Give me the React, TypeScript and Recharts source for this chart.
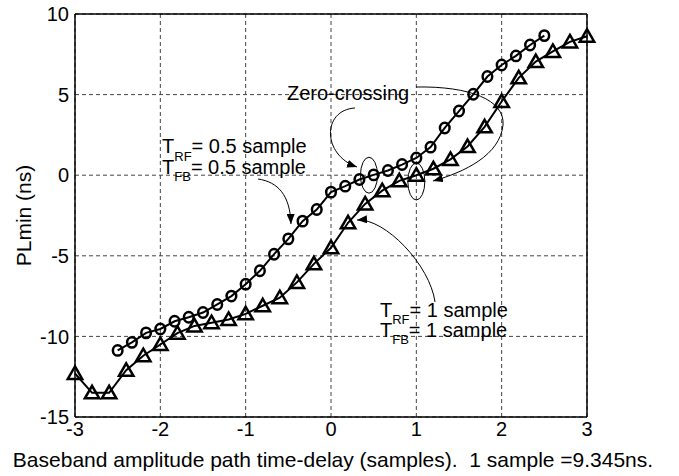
import React from 'react';
import { LineChart, Line, XAxis, YAxis, CartesianGrid } from 'recharts';

// ---------- data ----------
const xTicks = [-3, -2, -1, 0, 1, 2, 3];
const yTicks = [-15, -10, -5, 0, 5, 10];

// T_RF = T_FB = 0.5 sample (circles)
const halfSampleX = [
  -2.5, -2.333, -2.167, -2.0, -1.833, -1.667, -1.5, -1.333, -1.167, -1.0, -0.833,
  -0.667, -0.5, -0.333, -0.167, 0.0, 0.167, 0.333, 0.5, 0.667, 0.833, 1.0, 1.167,
  1.333, 1.5, 1.667, 1.833, 2.0, 2.167, 2.333, 2.5,
];
const halfSampleY = [
  -10.87, -10.37, -9.78, -9.54, -9.06, -8.81, -8.52, -8.02, -7.5, -6.76, -5.93,
  -4.9, -3.95, -2.85, -2.13, -1.05, -0.68, -0.27, 0.02, 0.29, 0.66, 1.07, 1.74,
  2.93, 3.98, 5.02, 6.12, 6.84, 7.4, 8.08, 8.66,
];

// T_RF = T_FB = 1 sample (triangles)
const oneSampleX = [
  -3.0, -2.8, -2.6, -2.4, -2.2, -2.0, -1.8, -1.6, -1.4, -1.2, -1.0, -0.8, -0.6,
  -0.4, -0.2, 0.0, 0.2, 0.4, 0.6, 0.8, 1.0, 1.2, 1.4, 1.6, 1.8, 2.0, 2.2, 2.4,
  2.6, 2.8, 3.0,
];
const oneSampleY = [
  -12.3, -13.5, -13.5, -12.1, -11.2, -10.5, -9.8, -9.35, -9.15, -8.95, -8.6, -8.1,
  -7.6, -6.65, -5.5, -4.5, -2.95, -1.78, -0.96, -0.35, 0.0, 0.4, 0.98, 1.78, 3.0,
  4.57, 6.04, 7.05, 7.68, 8.27, 8.62,
];

const halfData = halfSampleX.map((x, i) => ({ x, y: halfSampleY[i] }));
const oneData = oneSampleX.map((x, i) => ({ x, y: oneSampleY[i] }));

// ---------- layout ----------
const W = 679;
const H = 476;
const Y_AXIS_W = 60;
const X_AXIS_H = 30;
const MARGIN = { top: 14, right: 92, bottom: 29, left: 15 };
const X_DOMAIN: [number, number] = [-3, 3];
const Y_DOMAIN: [number, number] = [-15, 10];
const PLOT_L = MARGIN.left + Y_AXIS_W;
const PLOT_T = MARGIN.top;
const PLOT_W = W - PLOT_L - MARGIN.right;
const PLOT_H = H - PLOT_T - MARGIN.bottom - X_AXIS_H;
const sx = (x: number) => PLOT_L + ((x - X_DOMAIN[0]) / (X_DOMAIN[1] - X_DOMAIN[0])) * PLOT_W;
const sy = (y: number) => PLOT_T + ((Y_DOMAIN[1] - y) / (Y_DOMAIN[1] - Y_DOMAIN[0])) * PLOT_H;

const FONT = '"Liberation Sans", Arial, Helvetica, sans-serif';

// ---------- markers ----------
const CircleDot = (props: any) => {
  const { cx, cy, index } = props;
  if (cx == null || cy == null) return <g key={`c-${index}`} />;
  return (
    <ellipse key={`c-${index}`} cx={cx} cy={cy} rx={4.8} ry={5.2} fill="none" stroke="#000" strokeWidth={2.5} />
  );
};

const TriDot = (props: any) => {
  const { cx, cy, index } = props;
  if (cx == null || cy == null) return <g key={`t-${index}`} />;
  const d = `M${cx},${cy - 7} L${cx + 7.2},${cy + 5.5} L${cx - 7.2},${cy + 5.5} Z`;
  return <path key={`t-${index}`} d={d} fill="none" stroke="#000" strokeWidth={2.5} strokeLinejoin="miter" />;
};

// ---------- annotations (data coordinates) ----------
type Pt = [number, number];
const cubic = (p0: Pt, c1: Pt, c2: Pt, p1: Pt) =>
  `M${sx(p0[0])},${sy(p0[1])} C${sx(c1[0])},${sy(c1[1])} ${sx(c2[0])},${sy(c2[1])} ${sx(p1[0])},${sy(p1[1])}`;
const cubic2 = (p0: Pt, c1: Pt, c2: Pt, p1: Pt, c3: Pt, c4: Pt, p2: Pt) =>
  cubic(p0, c1, c2, p1) + ` C${sx(c3[0])},${sy(c3[1])} ${sx(c4[0])},${sy(c4[1])} ${sx(p2[0])},${sy(p2[1])}`;

const zeroLabel: Pt = [-0.516, 4.665];
const halfLabel: Pt = [-1.98, 1.377];
const halfLabel2Y = 0.074;
const oneLabel: Pt = [0.574, -8.797];
const oneLabel2Y = -10.037;
const ellipse1: Pt = [0.445, 0.0];
const ellipse2: Pt = [1.0, -0.39];

const Annotations = () => (
  <svg
    width={W}
    height={H}
    style={{ position: 'absolute', left: 0, top: 0, pointerEvents: 'none', fontFamily: FONT }}
  >
    <defs>
      <marker id="arrow" viewBox="0 0 10 8" refX="10" refY="4" markerWidth="10" markerHeight="8" markerUnits="userSpaceOnUse" orient="auto">
        <path d="M0,0 L10,4 L0,8 Z" fill="#000" />
      </marker>
    </defs>
    {/* ellipses around zero-crossings */}
    <ellipse cx={sx(ellipse1[0])} cy={sy(ellipse1[1])} rx={8.5} ry={18} fill="none" stroke="#000" strokeWidth={1} />
    <ellipse cx={sx(ellipse2[0])} cy={sy(ellipse2[1])} rx={8.5} ry={18.5} fill="none" stroke="#000" strokeWidth={1} />
    {/* arrows */}
    <path
      d={cubic([0.281, 4.169], [-0.106, 4.045], [-0.106, 1.253], [0.305, 0.509])}
      fill="none" stroke="#000" strokeWidth={1} markerEnd="url(#arrow)"
    />
    <path
      d={cubic2([0.996, 5.471], [1.629, 5.533], [2.039, 4.665], [2.016, 3.114], [1.98, 1.253], [1.57, 0.199], [1.195, -0.36])}
      fill="none" stroke="#000" strokeWidth={1} markerEnd="url(#arrow)"
    />
    <path
      d={cubic([-0.855, -0.236], [-0.621, -0.422], [-0.48, -1.228], [-0.469, -3.027])}
      fill="none" stroke="#000" strokeWidth={1} markerEnd="url(#arrow)"
    />
    <path
      d={cubic([1.219, -7.866], [1.16, -5.571], [0.633, -2.655], [0.305, -2.779])}
      fill="none" stroke="#000" strokeWidth={1} markerEnd="url(#arrow)"
    />
    {/* texts */}
    <text x={sx(zeroLabel[0])} y={sy(zeroLabel[1])} fontSize={20} fill="#000">Zero-crossing</text>
    <text x={sx(halfLabel[0])} y={sy(halfLabel[1])} fontSize={20} fill="#000">
      T<tspan fontSize={13} dy={8}>RF</tspan><tspan dy={-8}>= 0.5 sample</tspan>
    </text>
    <text x={sx(halfLabel[0])} y={sy(halfLabel2Y)} fontSize={20} fill="#000">
      T<tspan fontSize={13} dy={7}>FB</tspan><tspan dy={-7}>= 0.5 sample</tspan>
    </text>
    <text x={sx(oneLabel[0])} y={sy(oneLabel[1])} fontSize={20} fill="#000">
      T<tspan fontSize={13} dy={7}>RF</tspan><tspan dy={-7}>= 1 sample</tspan>
    </text>
    <text x={sx(oneLabel[0])} y={sy(oneLabel2Y)} fontSize={20} fill="#000">
      T<tspan fontSize={13} dy={7}>FB</tspan><tspan dy={-7}>= 1 sample</tspan>
    </text>
    {/* axis titles */}
    <text
      x={sx(0) + 2}
      y={467}
      fontSize={21}
      textAnchor="middle"
      fill="#000"
      style={{ whiteSpace: 'pre' }}
    >
      {'Baseband amplitude path time-delay (samples).  1 sample =9.345ns.'}
    </text>
    <text
      transform={`translate(31, ${sy(-2.5)}) rotate(-90)`}
      fontSize={21}
      textAnchor="middle"
      fill="#000"
    >
      PLmin (ns)
    </text>
  </svg>
);

const tickStyle = { fontSize: 20, fill: '#000', fontFamily: FONT };
const blank = () => '';

export default function App() {
  return (
    <div style={{ position: 'absolute', left: 0, top: 0, width: W, height: H, background: '#fff', fontFamily: FONT }}>
      <LineChart width={W} height={H} margin={MARGIN}>
        <CartesianGrid xAxisId="main" yAxisId="main" stroke="#444" strokeDasharray="4 3" strokeWidth={1} />
        <XAxis
          xAxisId="main"
          dataKey="x"
          type="number"
          domain={X_DOMAIN}
          ticks={xTicks}
          height={X_AXIS_H}
          tickLine={false}
          tickSize={0}
          tickMargin={5}
          tick={tickStyle}
          axisLine={{ stroke: '#000', strokeWidth: 1.5 }}
        />
        <XAxis
          xAxisId="bottomTicks"
          type="number"
          orientation="bottom"
          mirror
          domain={X_DOMAIN}
          ticks={xTicks}
          tickSize={5}
          tickFormatter={blank}
          tickLine={{ stroke: '#000' }}
          axisLine={false}
        />
        <XAxis
          xAxisId="top"
          type="number"
          orientation="top"
          mirror
          domain={X_DOMAIN}
          ticks={xTicks}
          tickSize={5}
          tickFormatter={blank}
          tickLine={{ stroke: '#000' }}
          axisLine={{ stroke: '#000', strokeWidth: 1.5 }}
        />
        <YAxis
          yAxisId="main"
          type="number"
          domain={Y_DOMAIN}
          ticks={yTicks}
          width={Y_AXIS_W}
          tickLine={false}
          tickSize={0}
          tickMargin={6}
          tick={tickStyle}
          axisLine={{ stroke: '#000', strokeWidth: 1.5 }}
        />
        <YAxis
          yAxisId="leftTicks"
          type="number"
          orientation="left"
          mirror
          domain={Y_DOMAIN}
          ticks={yTicks}
          tickSize={5}
          tickFormatter={blank}
          tickLine={{ stroke: '#000' }}
          axisLine={false}
        />
        <YAxis
          yAxisId="right"
          type="number"
          orientation="right"
          mirror
          domain={Y_DOMAIN}
          ticks={yTicks}
          tickSize={5}
          tickFormatter={blank}
          tickLine={{ stroke: '#000' }}
          axisLine={{ stroke: '#000', strokeWidth: 1.5 }}
        />
        <Line
          xAxisId="main"
          yAxisId="main"
          data={halfData}
          dataKey="y"
          type="linear"
          stroke="#000"
          strokeWidth={2}
          dot={CircleDot}
          activeDot={false}
          isAnimationActive={false}
        />
        <Line
          xAxisId="main"
          yAxisId="main"
          data={oneData}
          dataKey="y"
          type="linear"
          stroke="#000"
          strokeWidth={2}
          dot={TriDot}
          activeDot={false}
          isAnimationActive={false}
        />
      </LineChart>
      <Annotations />
    </div>
  );
}
